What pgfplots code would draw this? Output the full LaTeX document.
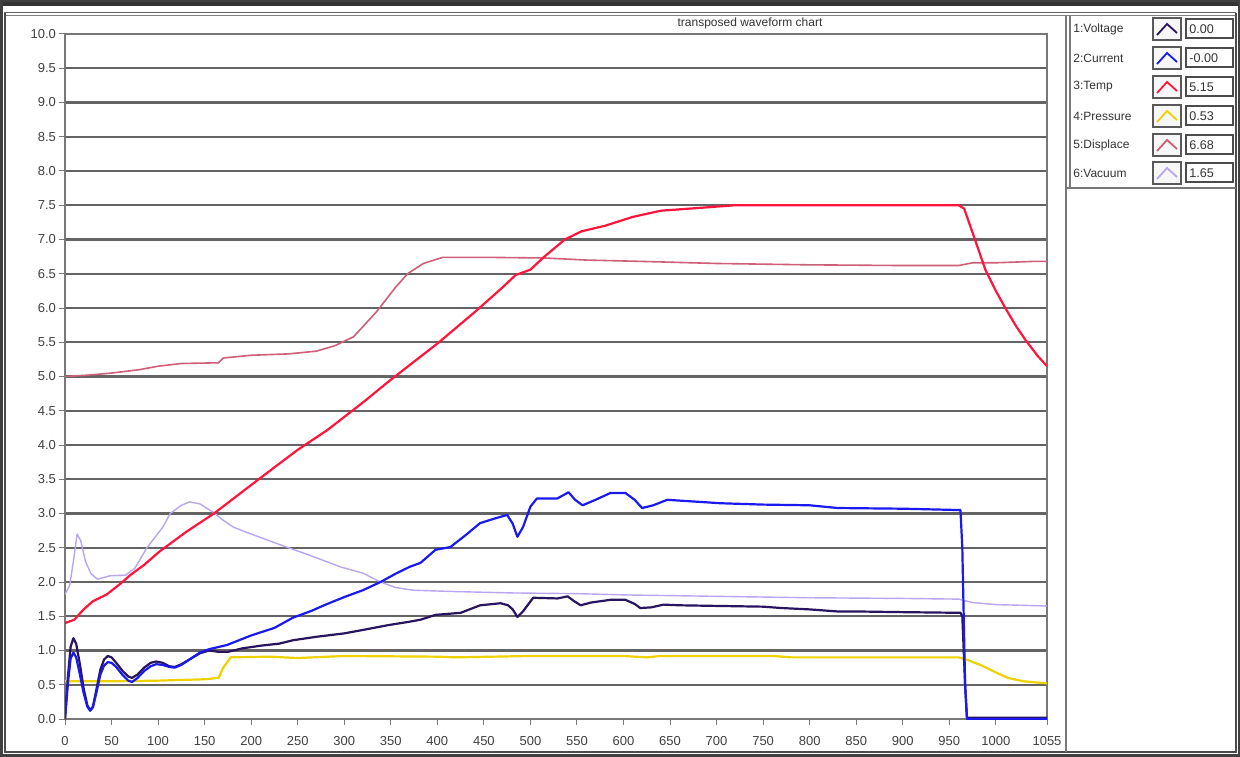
\documentclass[border=0pt]{standalone}
\usepackage{fontspec}
\setmainfont{Liberation Sans}
\usepackage{pgfplots}
\pgfplotsset{compat=1.18}
\definecolor{cVolt}{RGB}{40,20,95}
\definecolor{cCurr}{RGB}{25,25,240}
\definecolor{cTemp}{RGB}{255,20,60}
\definecolor{cPres}{RGB}{238,210,0}
\definecolor{cDisp}{RGB}{205,95,120}
\definecolor{cVac}{RGB}{185,165,240}
\definecolor{gridgray}{RGB}{100,100,100}
\definecolor{framegray}{RGB}{120,120,120}
\begin{document}
\begin{tikzpicture}
\path[use as bounding box] (0,0) rectangle (620pt,378pt);
\fill[white] (0,0) rectangle (620pt,378pt);
\begin{scope}[x=0.5pt,y=-0.5pt,shift={(0,378pt)}]
  % outer frame
  \fill[black!80] (0,0) rectangle (1240,6);
  \draw[black!75,line width=1.5pt] (1,1) rectangle (1239,755);
  \draw[black!60,line width=0.5pt] (4,13) -- (1236,13);
  \draw[black!50,line width=0.5pt] (4,16) -- (1236,16);
  \draw[black!70,line width=0.8pt] (5,13) -- (5,753);
  \draw[black!70,line width=0.8pt] (4,752) -- (1236,752);
  \draw[black!70,line width=0.8pt] (1236,13) -- (1236,753);
  % legend panel
  \draw[framegray,line width=0.8pt] (1066,16) -- (1066,752);
  \draw[framegray,line width=0.6pt] (1070,16) -- (1070,188);
  \draw[framegray,line width=0.6pt] (1066,188) -- (1236,188);
  % title
  \node[font=\fontsize{6}{7}\selectfont, text=black!80] at (750,23) {transposed waveform chart};
  % legend entries
  \foreach \yc/\lab/\val/\col in {29/1:Voltage/0.00/cVolt, 58/2:Current/-0.00/cCurr, 87/3:Temp/5.15/cTemp, 116/4:Pressure/0.53/cPres, 145/5:Displace/6.68/cDisp, 173/6:Vacuum/1.65/cVac}{
    \node[anchor=west, font=\fontsize{6}{7}\selectfont, text=black!80, inner sep=0pt] at (1073,\yc) {\lab};
    \draw[black!65, line width=0.6pt, fill=black!3] (1153,\yc-11) rectangle (1181,\yc+11);
    \draw[\col, line width=0.9pt] (1157,\yc+6) -- (1167,\yc-5) -- (1177,\yc+4);
    \draw[black!70, line width=0.6pt, fill=white] (1186,\yc-10) rectangle (1233,\yc+9);
    \node[anchor=west, font=\fontsize{6.3}{7}\selectfont, text=black!80, inner sep=0pt] at (1189,\yc) {\val};
  }
\end{scope}
\begin{axis}[
  at={(32.5pt,18.5pt)}, anchor=south west,
  scale only axis, width=491pt, height=342.5pt,
  xmin=0, xmax=1055, ymin=0, ymax=10,
  xtick={0,50,100,150,200,250,300,350,400,450,500,550,600,650,700,750,800,850,900,950,1000,1055},
  ytick={0,0.5,1,1.5,2,2.5,3,3.5,4,4.5,5,5.5,6,6.5,7,7.5,8,8.5,9,9.5,10},
  ymajorgrids,
  grid style={line width=1.2pt, color=gridgray},
  axis line style={framegray, line width=0.8pt},
  tick style={framegray, line width=0.5pt},
  tick align=outside, major tick length=3pt,
  xtick pos=bottom, ytick pos=left,
  ticklabel style={font=\fontsize{6.5}{7}\selectfont, text=black!75},
  /pgf/number format/assume math mode=true,
  yticklabel style={xshift=2pt, /pgf/number format/fixed, /pgf/number format/fixed zerofill, /pgf/number format/precision=1},
  xticklabel style={yshift=-2pt, /pgf/number format/fixed, /pgf/number format/precision=0, /pgf/number format/1000 sep={}},
  clip=true,
  every axis plot/.append style={line join=round},
]
% Vacuum
\addplot[cVac, line width=0.7pt] coordinates {
(0,1.82)(5,1.95)(9,2.3)(13,2.7)(17,2.6)(22,2.3)(28,2.12)(35,2.04)(48,2.09)(65,2.1)(75,2.2)(88,2.5)(105,2.8)(113,3.0)(125,3.12)(134,3.17)(145,3.14)(159,3.02)(170,2.9)(181,2.8)(200,2.7)(238,2.51)(265,2.38)(296,2.22)(320,2.13)(339,2.0)(355,1.92)(374,1.88)(420,1.86)(482,1.84)(550,1.83)(607,1.81)(704,1.79)(800,1.77)(900,1.76)(960,1.75)(975,1.7)(1000,1.67)(1055,1.65)};
% Displace
\addplot[cDisp, line width=0.8pt] coordinates {
(0,5.0)(25,5.02)(50,5.05)(80,5.1)(100,5.15)(125,5.19)(165,5.2)(170,5.27)(200,5.31)(240,5.33)(270,5.37)(290,5.45)(310,5.58)(335,5.95)(355,6.3)(368,6.5)(385,6.65)(406,6.74)(450,6.74)(515,6.73)(560,6.7)(620,6.68)(700,6.65)(800,6.63)(900,6.62)(960,6.62)(975,6.66)(1000,6.66)(1040,6.68)(1055,6.68)};
% Pressure
\addplot[cPres, line width=1.1pt] coordinates {
(0,0.55)(50,0.55)(100,0.56)(150,0.58)(165,0.6)(170,0.75)(178,0.9)(220,0.91)(250,0.89)(300,0.92)(400,0.91)(420,0.9)(500,0.92)(600,0.92)(625,0.9)(640,0.92)(760,0.92)(780,0.9)(960,0.9)(970,0.86)(985,0.78)(1000,0.68)(1013,0.6)(1030,0.55)(1055,0.52)};
% Temp
\addplot[cTemp, line width=1.1pt] coordinates {
(0,1.40)(10,1.45)(20,1.6)(30,1.72)(45,1.82)(60,1.98)(70,2.1)(85,2.25)(102,2.45)(130,2.73)(160,3.0)(210,3.52)(250,3.93)(282,4.22)(320,4.62)(347,4.92)(380,5.27)(400,5.48)(441,5.95)(470,6.3)(484,6.48)(500,6.56)(515,6.75)(537,7.0)(555,7.12)(580,7.2)(610,7.33)(640,7.42)(680,7.46)(720,7.5)(960,7.5)(966,7.45)(975,7.1)(989,6.55)(1000,6.25)(1011,5.98)(1022,5.73)(1032,5.53)(1045,5.3)(1055,5.15)};
% Voltage
\addplot[cVolt, line width=1.1pt] coordinates {
(0,0)(3,0.6)(6,1.05)(9,1.18)(12,1.1)(16,0.8)(20,0.45)(24,0.2)(27,0.13)(30,0.18)(34,0.45)(38,0.72)(42,0.87)(46,0.92)(50,0.9)(55,0.82)(62,0.7)(68,0.62)(72,0.6)(78,0.65)(85,0.75)(92,0.82)(98,0.84)(105,0.82)(112,0.77)(118,0.76)(125,0.8)(135,0.88)(145,0.96)(155,1.0)(165,0.98)(175,0.98)(190,1.03)(210,1.07)(230,1.1)(245,1.15)(270,1.2)(300,1.25)(320,1.3)(347,1.37)(370,1.42)(382,1.45)(398,1.52)(425,1.55)(446,1.66)(468,1.69)(476,1.66)(481,1.6)(486,1.49)(492,1.57)(503,1.77)(529,1.76)(540,1.79)(547,1.72)(554,1.66)(565,1.7)(586,1.74)(602,1.74)(612,1.68)(618,1.62)(630,1.63)(643,1.67)(660,1.66)(704,1.65)(750,1.64)(770,1.62)(800,1.6)(830,1.57)(850,1.57)(900,1.56)(962,1.55)(964,1.5)(967,0.5)(969,0.02)(1055,0.02)};
% Current
\addplot[cCurr, line width=1.1pt] coordinates {
(0,0)(3,0.5)(6,0.88)(9,0.97)(12,0.9)(16,0.65)(20,0.38)(24,0.18)(27,0.12)(30,0.17)(34,0.4)(38,0.65)(42,0.78)(46,0.83)(50,0.82)(55,0.76)(62,0.64)(68,0.56)(72,0.54)(78,0.6)(85,0.7)(92,0.77)(98,0.8)(105,0.79)(112,0.76)(118,0.75)(125,0.79)(135,0.88)(145,0.97)(155,1.02)(174,1.08)(200,1.22)(225,1.33)(245,1.48)(265,1.58)(280,1.67)(300,1.78)(320,1.88)(339,2.0)(355,2.12)(370,2.22)(382,2.28)(398,2.47)(414,2.51)(430,2.68)(446,2.86)(460,2.92)(475,2.98)(481,2.85)(486,2.66)(492,2.8)(500,3.1)(507,3.22)(529,3.22)(541,3.31)(548,3.2)(556,3.12)(570,3.2)(586,3.3)(602,3.3)(612,3.2)(620,3.08)(632,3.12)(647,3.2)(670,3.18)(704,3.15)(750,3.13)(800,3.12)(830,3.08)(900,3.07)(962,3.05)(964,2.5)(967,0.5)(969,0.0)(1055,0.0)};
\end{axis}
\end{tikzpicture}
\end{document}
